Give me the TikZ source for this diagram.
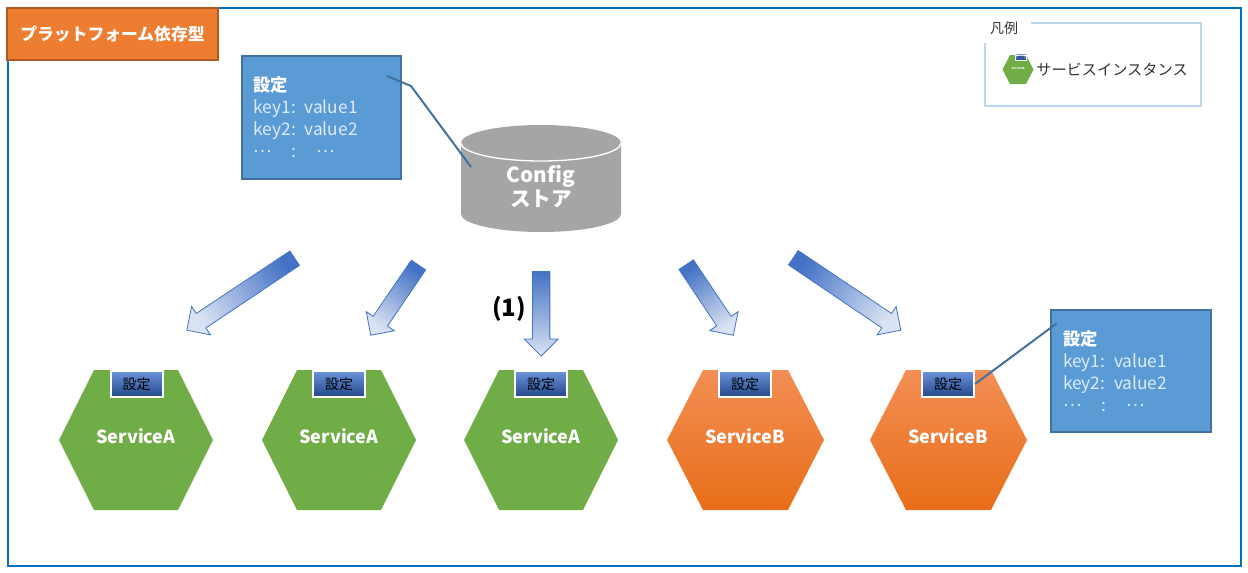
\documentclass[tikz,border=0pt]{standalone}
\usepackage{fontspec}
\setmainfont{Noto Sans CJK JP}
\usetikzlibrary{positioning,shapes.arrows}
\definecolor{frameblue}{HTML}{0070C0}
\definecolor{titlefill}{HTML}{ED7D31}
\definecolor{titleline}{HTML}{AE5A21}
\definecolor{notefill}{HTML}{5B9BD5}
\definecolor{noteline}{HTML}{41719C}
\definecolor{notetext}{HTML}{DEEBF7}
\definecolor{legendline}{HTML}{BDD7EE}
\definecolor{storegray}{HTML}{A5A5A5}
\definecolor{greenhex}{HTML}{70AD47}
\definecolor{hextop}{HTML}{F38E55}
\definecolor{hexbottom}{HTML}{E86E18}
\definecolor{tagtop}{HTML}{6C93DB}
\definecolor{tagbottom}{HTML}{23478A}
\definecolor{flowdark}{HTML}{4472C4}
\definecolor{flowpale}{HTML}{DAE3F3}
\newcommand{\midellipsis}{\raisebox{0.3em}{…}}
\begin{document}
\begin{tikzpicture}%
	[x=0.75pt,y=-0.75pt,
	title/.style = {rectangle, draw=titleline, line width=1.5pt, fill=titlefill, text=white, minimum width=158pt, minimum height=39.5pt, inner sep=0pt, font=\fontsize{12.6}{15}\selectfont\bfseries},
	note/.style = {rectangle, draw=noteline, line width=1.5pt, fill=notefill, text=notetext, minimum width=119.5pt, minimum height=92pt, inner sep=0pt, text width=102pt, align=left, font=\fontsize{13}{16.5}\selectfont},
	link/.style = {draw=noteline, line width=1.5pt},
	hexA/.style = {fill=greenhex},
	hexB/.style = {top color=hextop, bottom color=hexbottom},
	svc/.style = {text=white, inner sep=0pt, font=\fontsize{13.5}{15}\selectfont\bfseries},
	tag/.style = {rectangle, draw=white, line width=1.5pt, top color=tagtop, bottom color=tagbottom, minimum width=39pt, minimum height=19pt, inner sep=0pt, font=\fontsize{10.5}{12}\selectfont},
	flow/.style = {single arrow, draw=flowdark, line width=0.6pt, top color=flowdark, bottom color=flowpale, text height=12.4pt, text depth=0pt, text width=0pt, single arrow head extend=6.3pt, single arrow tip angle=90, inner sep=0pt, anchor=tail}]
	\useasboundingbox (0,0) rectangle (1248,572);
	\draw[frameblue, line width=1.5pt] (7.5,8) rectangle (1241,566);
	\node[title] (head) at (112.5,34) {プラットフォーム依存型};

	% legend
	\draw[legendline, line width=1.5pt] (1031,23) -| (1201,106) -| (985,43);
	\node[inner sep=0pt, text=black!80, font=\fontsize{10.5}{12}\selectfont] (legendT) at (1004,28) {凡例};
	\fill[hexA] (1002.5,69.5) -- (1010,55) -- (1026,55) -- (1033.5,69.5) -- (1026,84) -- (1010,84) -- cycle;
	\node[svc, font=\fontsize{2.2}{3}\selectfont\bfseries] (legendS) at (1018,68) {ServiceA};
	\node[tag, line width=0.3pt, minimum width=8pt, minimum height=4pt, font=\fontsize{2.2}{3}\selectfont] (legendK) at (1021,57.5) {設定};
	\node[inner sep=0pt, text=black!80, font=\fontsize{11.4}{13}\selectfont] (legendN) at (1112,69.5) {サービスインスタンス};

	% store
	\fill[storegray] (461,143) -- (461,214) arc[start angle=180, end angle=360, x radius=60pt, y radius=13.5pt] -- (621,143) arc[start angle=0, end angle=180, x radius=60pt, y radius=13.5pt] -- cycle;
	\draw[white, line width=1pt] (461,143) arc[start angle=180, end angle=360, x radius=60pt, y radius=13.5pt];
	\node[text=white, inner sep=0pt, align=center, font=\fontsize{15.5}{18}\selectfont\bfseries] (store) at (541,187) {Config\\ストア};

	% settings
	\node[note] (noteU) at (321.5,117.5) {\textbf{\textcolor{white}{設定}}\\key1: value1\\key2: value2\\\midellipsis\hspace{15pt}:\hspace{15pt}\midellipsis};
	\node[note, minimum width=120pt] (noteB) at (1131,371) {\textbf{\textcolor{white}{設定}}\\key1: value1\\key2: value2\\\midellipsis\hspace{15pt}:\hspace{15pt}\midellipsis};
	\coordinate (noteUend) at (387,76);
	\coordinate (noteUbend) at (411,86);
	\coordinate (storeIn) at (471,167);
	\coordinate (noteBend) at (1056.5,323.5);
	\draw[link] (noteUend) -- (noteUbend) -- (storeIn);

	% services
	\fill[hexA] (59,440) -- (94,370) -- (178,370) -- (213,440) -- (178,510) -- (94,510) -- cycle;
	\fill[hexA] (262,440) -- (297,370) -- (381,370) -- (416,440) -- (381,510) -- (297,510) -- cycle;
	\fill[hexA] (464,440) -- (499,370) -- (583,370) -- (618,440) -- (583,510) -- (499,510) -- cycle;
	\path[hexB] (667,440) -- (703,370) -- (788,370) -- (824,440) -- (788,510) -- (703,510) -- cycle;
	\path[hexB] (870,440) -- (906,370) -- (991,370) -- (1027,440) -- (991,510) -- (906,510) -- cycle;
	\node[svc] (svcA1) at (136,436) {ServiceA};
	\node[svc] (svcA2) at (339,436) {ServiceA};
	\node[svc] (svcA3) at (541,436) {ServiceA};
	\node[svc] (svcB1) at (745,436) {ServiceB};
	\node[svc] (svcB2) at (948,436) {ServiceB};
	\node[tag] (tagA1) at (136.5,384) {設定};
	\node[tag] (tagA2) at (339,384) {設定};
	\node[tag] (tagA3) at (541,384) {設定};
	\node[tag] (tagB1) at (745,384) {設定};
	\node[tag] (tagB2) at (948,384) {設定};
	\draw[link] (tagB2.east) -- (noteBend);

	% flows
	\node[flow, minimum height=97.2pt, rotate=-146.3, shading angle=-56.3] (flowA1) at (295,258) {};
	\node[flow, minimum height=63.7pt, rotate=-124.2, shading angle=-34.2] (flowA2) at (418.7,264.7) {};
	\node[flow, minimum height=63.5pt, rotate=-90] (flowA3) at (541.2,271) {};
	\node[flow, minimum height=63.7pt, rotate=-56.3, shading angle=33.7] (flowB1) at (686,264.3) {};
	\node[flow, minimum height=97.2pt, rotate=-34, shading angle=56] (flowB2) at (793,257.5) {};
	\node[inner sep=0pt, font=\fontsize{18}{20}\selectfont\bfseries] (flowNo) at (509,309) {(1)};
\end{tikzpicture}
\end{document}
